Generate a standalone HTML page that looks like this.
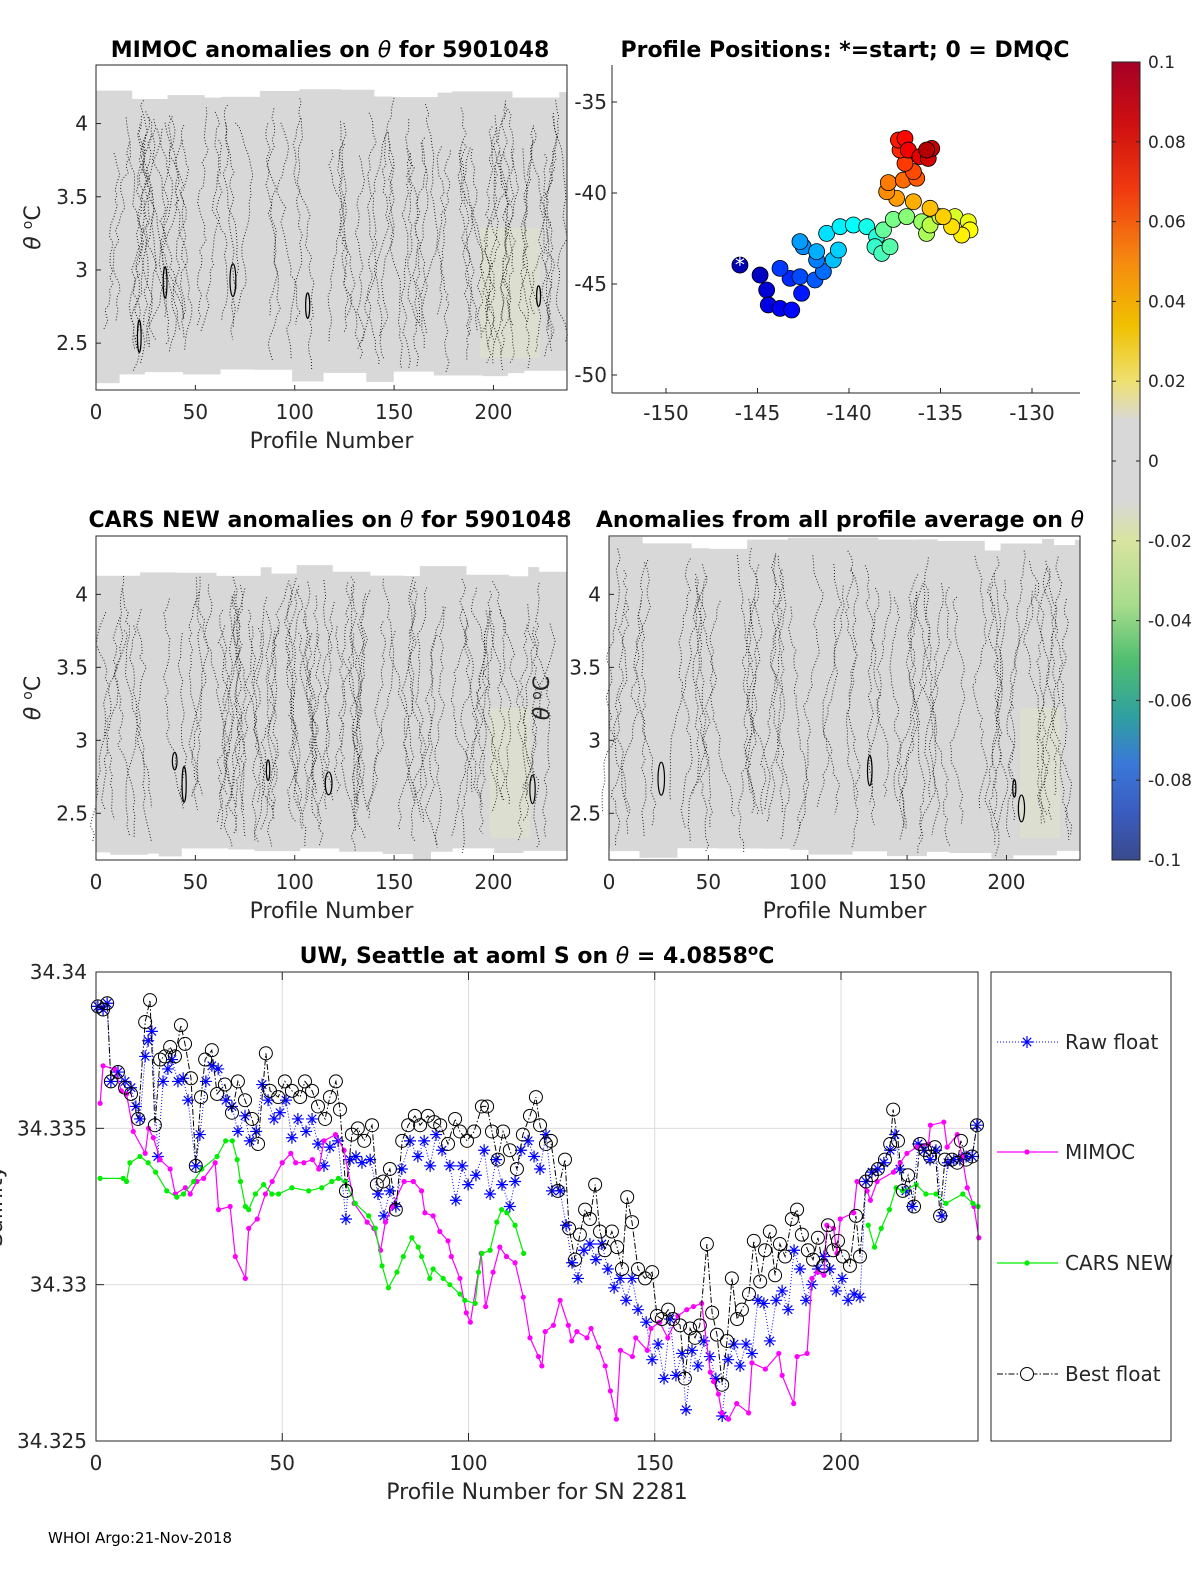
<!DOCTYPE html>
<html><head><meta charset="utf-8"><style>
body{margin:0;background:#fff;}
svg{display:block;font-family:"DejaVu Sans","Liberation Sans",sans-serif;}
.t{font-size:20px;fill:#262626;}
.ttl{font-size:22px;font-weight:bold;fill:#000;}
</style></head><body>
<svg id="fig" width="1200" height="1575" viewBox="0 0 1200 1575" xmlns="http://www.w3.org/2000/svg">
<rect width="1200" height="1575" fill="#fff"/>
<g id="p1"></g>
<g id="p3"></g>
<g id="p4"></g>
<g id="map"></g>
<g id="cbar"></g>
<g id="ts"></g>
<text x="330" y="57" text-anchor="middle" class="ttl">MIMOC anomalies on <tspan font-style="italic" font-weight="normal">θ</tspan>  for 5901048</text>
<text x="845" y="57" text-anchor="middle" class="ttl">Profile Positions: *=start; 0 = DMQC</text>
<text x="330" y="527" text-anchor="middle" class="ttl">CARS NEW anomalies on <tspan font-style="italic" font-weight="normal">θ</tspan> for 5901048</text>
<text x="840" y="527" text-anchor="middle" class="ttl">Anomalies from all profile average on <tspan font-style="italic" font-weight="normal">θ</tspan></text>
<text x="537" y="963" text-anchor="middle" class="ttl">UW, Seattle at aoml S on <tspan font-style="italic" font-weight="normal">θ</tspan> = 4.0858<tspan dy="-8" font-size="15">o</tspan><tspan dy="8">C</tspan></text>
<text x="48" y="1543" font-size="15" fill="#000">WHOI Argo:21-Nov-2018</text>
</svg>
<script>
// ---------- Salinity time-series data ----------
const mimocX=[1.1,1.9,5,6.8,8.2,10,13.2,14.1,15.4,17.2,19.9,21.3,24,25.3,27.1,28.9,32,32.9,36,37.4,40.1,41,43.3,45.5,47.3,50,52.3,53.6,55.8,58.1,59.8,61.2,64.3,66.6,69.3,72.8,74.6,76.4,77.7,79.5,82.7,85.2,87.4,88.3,90.5,92.3,94.5,95.4,97.7,99.4,100.5,103.4,104.6,106.6,108.4,110.2,112.5,114.7,116.5,118.8,119.7,120.6,122.8,124.6,126.8,127.7,129.1,131.8,132.9,134.9,136.7,138.1,139.7,140.8,144,144.9,148,149,151.3,153.5,156.2,158.6,160.4,162.6,164.9,165.8,167.1,168,169.8,172,175.2,176.1,179.7,183.3,184.2,187.3,188.2,190.9,192.2,193.6,195.4,196.2,198,198.9,199.8,203.4,204.3,207,207.9,209.7,214.1,215.9,217.7,220.4,223.5,224,227.6,228.5,231.2,232.5,233.9,235.7,237];
const mimocS=[34.3358,34.3370,34.3369,34.3362,34.3361,34.3349,34.3342,34.3350,34.3347,34.3340,34.3337,34.3329,34.3331,34.3329,34.3333,34.3334,34.3339,34.3324,34.3325,34.3309,34.3302,34.3318,34.3321,34.3329,34.3333,34.3339,34.3342,34.3339,34.3339,34.3340,34.3337,34.3346,34.3348,34.3343,34.3326,34.3320,34.3318,34.3311,34.3320,34.3325,34.3333,34.3333,34.3330,34.3323,34.3322,34.3317,34.3314,34.3309,34.3302,34.3291,34.3288,34.3310,34.3293,34.3304,34.3312,34.3309,34.3307,34.3296,34.3283,34.3277,34.3274,34.3285,34.3287,34.3295,34.3287,34.3282,34.3285,34.3283,34.3286,34.3280,34.3274,34.3266,34.3257,34.3279,34.3277,34.3283,34.3279,34.3286,34.3288,34.3283,34.3290,34.3292,34.3293,34.3294,34.3272,34.3269,34.3265,34.3259,34.3257,34.3262,34.3259,34.3275,34.3273,34.3278,34.3271,34.3262,34.3277,34.3278,34.3302,34.3304,34.3303,34.3319,34.3318,34.3310,34.3321,34.3323,34.3333,34.3330,34.3327,34.3333,34.3336,34.3339,34.3342,34.3344,34.3345,34.3351,34.3352,34.3344,34.3348,34.3341,34.3331,34.3325,34.3315];
const carsX=[1.1,7.3,8.2,9.1,11.8,14,16,19,21.7,23.5,26.2,28.4,32.5,34.8,36.6,37.9,38.8,40.1,41,42.8,45,47.2,49,52.6,57.1,60.6,63.3,65.1,66.9,69.6,73.2,75,76.8,78.5,80.8,82.5,84.8,86.5,87.4,89.6,90.5,93.2,95,97.7,99,101.8,102.7,103.6,105.8,107.6,108.9,110.3,112.5,114.8,null,207.3,209,210.8,213,214.8,216.6,220.2,222.8,225.5,228.2,232.7,235.4,236.8];
const carsS=[34.3334,34.3334,34.3333,34.3339,34.3341,34.3339,34.3336,34.3330,34.3328,34.3329,34.3333,34.3337,34.3341,34.3346,34.3346,34.3340,34.3333,34.3325,34.3324,34.3329,34.3332,34.3329,34.3329,34.3331,34.3330,34.3331,34.3333,34.3334,34.3333,34.3326,34.3322,34.3318,34.3306,34.3299,34.3304,34.3309,34.3315,34.3312,34.3309,34.3302,34.3305,34.3302,34.3300,34.3297,34.3295,34.3294,34.3304,34.3310,34.3311,34.3320,34.3324,34.3323,34.3319,34.3310,null,34.3319,34.3312,34.3318,34.3324,34.3331,34.3330,34.3332,34.3329,34.3329,34.3326,34.3329,34.3326,34.3325];
const rawX=[0.5,1.9,3.0,4.0,5.9,7.8,9.4,10.7,11.8,13.2,14.0,15.0,16.6,18.0,19.3,20.4,22.0,23.4,24.7,26.8,27.9,29.5,31.1,32.8,34.9,36.5,38.1,40.0,41.3,43.0,44.6,46.2,47.8,49.4,51.0,52.6,54.2,56.4,58.0,59.6,61.2,62.8,65.0,67.1,68.2,69.8,71.4,73.6,75.7,77.3,78.9,80.5,82.1,84.3,86.4,88.1,89.7,91.3,92.9,95.0,96.6,98.3,99.9,102.0,104.2,105.8,107.4,109.0,111.1,112.5,114.1,116.0,117.6,119.2,120.8,122.4,124.6,126.2,127.8,129.4,131.0,132.6,134.2,135.8,137.4,139.1,140.7,142.3,143.9,145.5,147.7,149.3,150.9,152.5,154.1,155.7,157.3,158.4,160.0,161.6,163.2,164.8,166.4,168.1,169.7,171.3,172.9,174.5,176.1,177.7,179.3,180.9,182.6,184.2,185.8,187.4,189.0,190.6,192.2,193.8,195.4,197.0,198.7,200.3,201.9,203.5,205.1,206.7,208.3,209.9,211.5,213.2,214.5,215.8,217.4,219.1,220.7,222.3,223.9,225.5,227.1,228.7,230.3,231.9,233.6,235.2,236.5];
const rawS=[34.3389,34.3388,34.3390,34.3365,34.3368,34.3365,34.3363,34.3357,34.3353,34.3373,34.3378,34.3381,34.3341,34.3365,34.3369,34.3372,34.3365,34.3366,34.3359,34.3338,34.3348,34.3365,34.3370,34.3369,34.3359,34.3357,34.3349,34.3354,34.3346,34.3349,34.3364,34.3359,34.3353,34.3355,34.3359,34.3347,34.3353,34.3349,34.3353,34.3345,34.3338,34.3344,34.3346,34.3321,34.3340,34.3341,34.3339,34.3340,34.3329,34.3322,34.3330,34.3325,34.3337,34.3346,34.3341,34.3346,34.3338,34.3348,34.3343,34.3338,34.3327,34.3338,34.3332,34.3335,34.3343,34.3329,34.3340,34.3332,34.3325,34.3333,34.3343,34.3346,34.3341,34.3337,34.3348,34.3330,34.3330,34.3319,34.3307,34.3302,34.3311,34.3313,34.3308,34.3313,34.3305,34.3299,34.3302,34.3295,34.3302,34.3292,34.3288,34.3276,34.3281,34.3270,34.3289,34.3271,34.3278,34.3260,34.3279,34.3274,34.3282,34.3277,34.3270,34.3258,34.3276,34.3281,34.3274,34.3281,34.3278,34.3295,34.3294,34.3282,34.3295,34.3298,34.3292,34.3311,34.3305,34.3295,34.3300,34.3305,34.3309,34.3305,34.3298,34.3302,34.3295,34.3297,34.3296,34.3333,34.3336,34.3337,34.3339,34.3343,34.3348,34.3337,34.3330,34.3325,34.3345,34.3343,34.3340,34.3343,34.3322,34.3339,34.3340,34.3340,34.3341,34.3341,34.3351];
const bestX=[0.5,1.9,3.0,4.0,5.9,7.8,9.4,11.3,13.2,14.5,15.8,17.2,18.5,19.9,21.2,22.8,23.9,25.5,26.8,28.2,29.3,31.1,32.5,34.6,36.5,38.1,40.0,41.9,43.5,45.6,46.7,48.9,50.7,52.6,54.8,56.1,58.0,59.6,61.5,62.8,64.4,65.5,67.1,68.7,70.3,72.0,74.1,75.4,77.1,78.9,80.5,82.2,83.8,85.6,87.0,89.1,90.8,92.4,94.5,96.4,97.7,99.6,101.5,103.6,105.0,106.3,107.9,109.3,111.1,113.0,114.6,116.5,118.1,119.2,120.8,122.1,124.0,125.9,127.0,128.6,129.9,131.3,132.6,134.0,135.3,136.6,138.5,139.9,141.2,142.6,143.9,145.5,147.4,149.3,150.6,151.9,153.6,154.9,156.8,158.1,159.5,160.8,162.1,164.0,165.4,166.7,168.1,169.4,170.7,172.1,173.4,175.3,176.6,178.3,179.6,180.9,182.3,183.6,185.0,186.8,188.2,189.5,191.1,192.5,193.8,195.2,196.5,197.9,199.2,200.5,202.4,204.0,205.1,206.7,208.3,209.9,211.8,213.2,214.0,215.3,216.6,218.0,219.6,221.2,222.6,223.9,225.2,226.6,227.9,229.8,231.2,232.2,233.6,235.2,236.5];
const bestS=[34.3389,34.3388,34.3390,34.3365,34.3368,34.3363,34.3361,34.3353,34.3384,34.3391,34.3351,34.3372,34.3373,34.3376,34.3373,34.3383,34.3377,34.3366,34.3338,34.3360,34.3372,34.3375,34.3361,34.3364,34.3355,34.3365,34.3359,34.3353,34.3345,34.3374,34.3362,34.3360,34.3365,34.3362,34.3360,34.3365,34.3362,34.3357,34.3353,34.3360,34.3365,34.3356,34.3330,34.3348,34.3350,34.3346,34.3351,34.3332,34.3333,34.3337,34.3324,34.3346,34.3351,34.3354,34.3351,34.3354,34.3352,34.3351,34.3345,34.3353,34.3349,34.3346,34.3349,34.3357,34.3357,34.3349,34.3340,34.3349,34.3343,34.3337,34.3348,34.3354,34.3360,34.3351,34.3345,34.3346,34.3330,34.3340,34.3318,34.3308,34.3316,34.3324,34.3321,34.3332,34.3317,34.3311,34.3317,34.3312,34.3305,34.3328,34.3320,34.3305,34.3302,34.3304,34.3290,34.3289,34.3292,34.3289,34.3287,34.3270,34.3286,34.3283,34.3287,34.3313,34.3291,34.3284,34.3268,34.3282,34.3302,34.3289,34.3292,34.3297,34.3314,34.3301,34.3311,34.3317,34.3303,34.3313,34.3309,34.3321,34.3324,34.3316,34.3311,34.3308,34.3315,34.3306,34.3319,34.3311,34.3314,34.3309,34.3306,34.3322,34.3309,34.3333,34.3335,34.3337,34.3340,34.3345,34.3356,34.3346,34.3330,34.3335,34.3325,34.3345,34.3343,34.3341,34.3344,34.3322,34.3340,34.3340,34.3339,34.3346,34.3340,34.3341,34.3351];
const tsXTicks=[0,50,100,150,200];
const tsYTicks=[34.34,34.335,34.33,34.325];
const tsYTickLabels=["34.34","34.335","34.33","34.325"];
const legendLabels=["Raw float","MIMOC","CARS NEW","Best float"];

// ---------- Map data ----------
const mapLon=[-145.96,-144.86,-144.50,-144.41,-143.77,-143.13,-142.59,-143.22,-143.77,-142.68,-141.86,-141.40,-141.77,-142.50,-142.68,-141.77,-140.86,-140.58,-141.22,-140.49,-139.76,-139.03,-138.49,-138.58,-138.21,-137.76,-138.12,-137.58,-136.85,-136.03,-135.76,-135.57,-135.03,-134.21,-133.48,-133.39,-133.84,-134.39,-134.85,-135.57,-136.48,-137.40,-137.94,-137.85,-137.03,-136.30,-136.48,-136.94,-137.21,-137.30,-136.94,-136.76,-136.12,-135.67,-135.48,-135.76];
const mapLat=[-43.96,-44.51,-45.33,-46.15,-46.34,-46.43,-45.51,-44.69,-44.14,-44.60,-44.78,-44.32,-43.68,-42.95,-42.67,-43.22,-43.68,-43.13,-42.22,-41.85,-41.76,-41.85,-42.40,-42.95,-43.32,-42.95,-42.03,-41.45,-41.30,-41.58,-42.22,-41.76,-41.30,-41.30,-41.58,-42.03,-42.31,-41.85,-41.30,-40.84,-40.48,-40.29,-39.93,-39.43,-39.29,-39.19,-38.83,-38.37,-37.64,-37.09,-37.00,-37.64,-38.00,-38.10,-37.55,-37.64];
const mapXTicks=[-150,-145,-140,-135,-130];
const mapYTicks=[-35,-40,-45,-50];
const cbarTicks=[0.1,0.08,0.06,0.04,0.02,0,-0.02,-0.04,-0.06,-0.08,-0.1];
const cbarLabels=["0.1","0.08","0.06","0.04","0.02","0","-0.02","-0.04","-0.06","-0.08","-0.1"];
const thetaTicks=[4,3.5,3,2.5];
const profTicks=[0,50,100,150,200];

const NS="http://www.w3.org/2000/svg";
function mk(tag,attrs,parent){const e=document.createElementNS(NS,tag);for(const k in attrs)e.setAttribute(k,attrs[k]);parent.appendChild(e);return e;}

// ---------- contour panels ----------
let seed=12345;function rnd(){seed=(seed*1103515245+12345)%2147483648;return seed/2147483648;}
function panel(gid,L,T,R,B,opt){
  const g=document.getElementById(gid);
  const sx=p=>L+(p/237)*(R-L);
  const sy=th=>T+(4.4-th)/(4.4-2.18)*(B-T);
  let pts=[];let x=L;
  while(x<R){const w=10+rnd()*40;const top=opt.top+rnd()*opt.topVar;pts.push([x,top],[Math.min(x+w,R),top]);x+=w;}
  let bot=[];x=R;
  while(x>L){const w=10+rnd()*40;const b=opt.bot+rnd()*opt.botVar;bot.push([x,b],[Math.max(x-w,L),b]);x-=w;}
  const field=mk('polygon',{points:pts.concat(bot).map(p=>p.join(',')).join(' '),fill:'#d8d8d8'},g);
  
  
  const hl=mk('rect',{x:opt.hlx,y:opt.bot-140,width:opt.hlw,height:130,fill:'#e3e6c8',opacity:0.45},g);
  
  
  for(let i=0;i<opt.n;i++){
    let cx=L+8+rnd()*(R-L-16);let y=opt.top+10+rnd()*60;let d='M'+cx.toFixed(1)+','+y.toFixed(1);
    const yEnd=opt.bot-rnd()*60;
    while(y<yEnd){y+=4+rnd()*8;cx+=(rnd()-0.5)*8;d+=' L'+cx.toFixed(1)+','+y.toFixed(1);}
    const c=mk('path',{d:d,fill:'none',stroke:'#222','stroke-width':1,'stroke-dasharray':'1 2'},g);
    
    
  }
  for(let i=0;i<opt.solid;i++){
    const cx=L+10+rnd()*(R-L-20), cy=opt.bot-90+rnd()*60;
    const s=mk('ellipse',{cx:cx,cy:cy,rx:1.5+rnd()*2,ry:8+rnd()*10,fill:'none',stroke:'#000','stroke-width':1.2},g);
    
    
  }
  const box=mk('rect',{x:L,y:T,width:R-L,height:B-T,fill:'none',stroke:'#262626','stroke-width':1},g);
  
  
  profTicks.forEach(p=>{
    const X=sx(p);
    mk('line',{x1:X,y1:B,x2:X,y2:B-5,stroke:'#262626'},g);
    const t=mk('text',{x:X,y:B+29,'text-anchor':'middle',class:'t'},g);t.textContent=p;
    
    
  });
  thetaTicks.forEach(v=>{
    const Y=sy(v);
    mk('line',{x1:L,y1:Y,x2:L+5,y2:Y,stroke:'#262626'},g);
    const t=mk('text',{x:L-8,y:Y+7,'text-anchor':'end',class:'t'},g);t.textContent=v;
    
    
  });
  const xl=mk('text',{x:(L+R)/2,y:B+58,'text-anchor':'middle',class:'t'},g);xl.textContent='Profile Number';
  xl.style.fontSize='22px';
  
  
  const yl=mk('text',{x:opt.ylx,y:(T+B)/2,'text-anchor':'middle',class:'t',transform:'rotate(-90 '+opt.ylx+' '+((T+B)/2)+')'},g);
  yl.style.fontSize='22px';
  yl.innerHTML='<tspan font-style="italic">θ</tspan> <tspan dy="-8" font-size="14">o</tspan><tspan dy="8">C</tspan>';
  
  
}
panel('p1',96,65,567,390,{top:87,topVar:12,bot:368,botVar:16,n:70,solid:5,hlx:480,hlw:60,ylx:40});
panel('p3',96,536,567,860,{top:565,topVar:12,bot:848,botVar:12,n:75,solid:5,hlx:490,hlw:40,ylx:40});
panel('p4',609,536,1080,860,{top:537,topVar:15,bot:848,botVar:12,n:55,solid:4,hlx:1020,hlw:40,ylx:549});

// ---------- map ----------
(function(){
  const g=document.getElementById('map');
  const L=612,B=393,T=65,R=1080;
  const sx=lon=>666+(lon+150)*18.3;
  const sy=lat=>102+(-35-lat)*18.2;
  mk('line',{x1:L,y1:T,x2:L,y2:B,stroke:'#262626'},g);
  mk('line',{x1:L,y1:B,x2:R,y2:B,stroke:'#262626'},g);
  mapXTicks.forEach(v=>{const X=sx(v);mk('line',{x1:X,y1:B,x2:X,y2:B-5,stroke:'#262626'},g);
    const t=mk('text',{x:X,y:B+27,'text-anchor':'middle',class:'t'},g);t.textContent=v;
    
    });
  mapYTicks.forEach(v=>{const Y=sy(v);mk('line',{x1:L,y1:Y,x2:L+5,y2:Y,stroke:'#262626'},g);
    const t=mk('text',{x:L-5,y:Y+7,'text-anchor':'end',class:'t'},g);t.textContent=v;
    
    });
  function jet(t){const r=Math.min(1,Math.max(0,1.5-Math.abs(4*t-3))),gg=Math.min(1,Math.max(0,1.5-Math.abs(4*t-2))),b=Math.min(1,Math.max(0,1.5-Math.abs(4*t-1)));return 'rgb('+Math.round(r*255)+','+Math.round(gg*255)+','+Math.round(b*255)+')';}
  const n=mapLon.length;
  for(let i=0;i<n;i++){
    const c=mk('circle',{cx:sx(mapLon[i]),cy:sy(mapLat[i]),r:8,fill:jet(0.05+0.9*i/(n-1)),stroke:'#000','stroke-width':0.8},g);
    
    
  }
  const s=mk('text',{x:sx(mapLon[0]),y:sy(mapLat[0])+7,'text-anchor':'middle','font-size':'20',fill:'#fff'},g);s.textContent='*';
  
  
})();

// ---------- colorbar ----------
(function(){
  const g=document.getElementById('cbar');
  const L=1112,R=1140,T=62,B=860;
  const defs=mk('defs',{},g);
  const lg=mk('linearGradient',{id:'cb',x1:0,y1:0,x2:0,y2:1},defs);
  [[0,'#a50026'],[0.08,'#d01010'],[0.16,'#f03a10'],[0.25,'#f68a10'],[0.33,'#f0c000'],[0.4,'#eee070'],[0.45,'#d8d8d8'],[0.55,'#d8d8d8'],[0.6,'#d8e4a0'],[0.68,'#a8dc8c'],[0.75,'#50be70'],[0.82,'#2fa0a0'],[0.88,'#3a78d8'],[0.94,'#3a5cc0'],[1,'#3a4a8c']].forEach(s=>mk('stop',{offset:s[0],'stop-color':s[1]},lg));
  const r=mk('rect',{x:L,y:T,width:R-L,height:B-T,fill:'url(#cb)',stroke:'#262626'},g);
  
  
  const sy=v=>T+(0.1-v)/0.2*(B-T);
  cbarTicks.forEach((v,i)=>{const Y=sy(v);mk('line',{x1:R-4,y1:Y,x2:R,y2:Y,stroke:'#262626'},g);mk('line',{x1:L,y1:Y,x2:L+4,y2:Y,stroke:'#262626'},g);
    const t=mk('text',{x:R+8,y:Y+6,class:'t'},g);t.style.fontSize='17px';t.textContent=cbarLabels[i];
    
    });
})();

// ---------- salinity time series ----------
(function(){
  const g=document.getElementById('ts');
  const L=96,R=978,T=972,B=1441;
  const sx=p=>L+p*3.725;
  const sy=v=>T+(34.34-v)/0.015*(B-T);
  mk('rect',{x:L,y:T,width:R-L,height:B-T,fill:'#fff'},g);
  tsXTicks.forEach(p=>{const X=sx(p);if(p>0)mk('line',{x1:X,y1:T,x2:X,y2:B,stroke:'#dcdcdc'},g);
    mk('line',{x1:X,y1:B,x2:X,y2:B-8,stroke:'#262626'},g);mk('line',{x1:X,y1:T,x2:X,y2:T+8,stroke:'#262626'},g);
    const t=mk('text',{x:X,y:B+29,'text-anchor':'middle',class:'t'},g);t.textContent=p;
    
    });
  tsYTicks.forEach((v,i)=>{const Y=sy(v);if(i>0&&i<3)mk('line',{x1:L,y1:Y,x2:R,y2:Y,stroke:'#dcdcdc'},g);
    mk('line',{x1:L,y1:Y,x2:L+8,y2:Y,stroke:'#262626'},g);mk('line',{x1:R-8,y1:Y,x2:R,y2:Y,stroke:'#262626'},g);
    const t=mk('text',{x:L-9,y:Y+7,'text-anchor':'end',class:'t'},g);t.textContent=tsYTickLabels[i];
    
    });
  function pathOf(xs,ys){let d='',pen=false;for(let i=0;i<xs.length;i++){if(xs[i]===null){pen=false;continue;}d+=(pen?' L':' M')+sx(xs[i]).toFixed(1)+','+sy(ys[i]).toFixed(1);pen=true;}return d;}
  const rl=mk('path',{d:pathOf(rawX,rawS),fill:'none',stroke:'#0000ff','stroke-width':1,'stroke-dasharray':'1 2'},g);
  
  
  function star(X,Y,col,grp){const s=6;mk('path',{d:`M${X-s},${Y}H${X+s}M${X},${Y-s}V${Y+s}M${X-s*.7},${Y-s*.7}L${X+s*.7},${Y+s*.7}M${X-s*.7},${Y+s*.7}L${X+s*.7},${Y-s*.7}`,stroke:col,'stroke-width':1.2,fill:'none'},grp);}
  rawX.forEach((p,i)=>{const m=mk('g',{},g);star(sx(p),sy(rawS[i]),'#0000ff',m);});
  const ml=mk('path',{d:pathOf(mimocX,mimocS),fill:'none',stroke:'#ff00ff','stroke-width':1.2},g);
  
  
  mimocX.forEach((p,i)=>{const c=mk('circle',{cx:sx(p),cy:sy(mimocS[i]),r:2.6,fill:'#ff00ff'},g);
    
    });
  const cl=mk('path',{d:pathOf(carsX,carsS),fill:'none',stroke:'#00ee00','stroke-width':1.2},g);
  
  
  carsX.forEach((p,i)=>{if(p===null)return;const c=mk('circle',{cx:sx(p),cy:sy(carsS[i]),r:2.6,fill:'#00ee00'},g);
    
    });
  const bl=mk('path',{d:pathOf(bestX,bestS),fill:'none',stroke:'#000','stroke-width':1,'stroke-dasharray':'6 2 1.5 2'},g);
  
  
  bestX.forEach((p,i)=>{const c=mk('circle',{cx:sx(p),cy:sy(bestS[i]),r:6.5,fill:'none',stroke:'#000','stroke-width':1},g);
    
    });
  const box=mk('rect',{x:L,y:T,width:R-L,height:B-T,fill:'none',stroke:'#262626'},g);
  
  
  const xl=mk('text',{x:(L+R)/2,y:B+58,'text-anchor':'middle',class:'t'},g);xl.style.fontSize='22px';xl.textContent='Profile Number for SN 2281';
  
  
  const yl=mk('text',{x:2,y:1206,'text-anchor':'middle',class:'t',transform:'rotate(-90 2 1206)'},g);yl.style.fontSize='22px';yl.textContent='Salinity';
  
  
  const lgG=mk('g',{},g);
  
  
  mk('rect',{x:991,y:972,width:180,height:469,fill:'#fff',stroke:'#262626'},lgG);
  const ly=[1042,1152,1263,1374];
  legendLabels.forEach((lab,i)=>{
    const e=mk('g',{},lgG);
    
    
    const Y=ly[i];
    if(i===0){mk('line',{x1:997,y1:Y,x2:1058,y2:Y,stroke:'#0000ff','stroke-dasharray':'1 2'},e);star(1027,Y,'#0000ff',e);}
    if(i===1){mk('line',{x1:997,y1:Y,x2:1058,y2:Y,stroke:'#ff00ff','stroke-width':1.2},e);mk('circle',{cx:1027,cy:Y,r:2.6,fill:'#ff00ff'},e);}
    if(i===2){mk('line',{x1:997,y1:Y,x2:1058,y2:Y,stroke:'#00ee00','stroke-width':1.2},e);mk('circle',{cx:1027,cy:Y,r:2.6,fill:'#00ee00'},e);}
    if(i===3){mk('line',{x1:997,y1:Y,x2:1058,y2:Y,stroke:'#000','stroke-dasharray':'6 2 1.5 2'},e);mk('circle',{cx:1027,cy:Y,r:6.5,fill:'#fff',stroke:'#000'},e);}
    const t=mk('text',{x:1065,y:Y+7,class:'t'},e);t.textContent=lab;
  });
})();
</script>
</body></html>
